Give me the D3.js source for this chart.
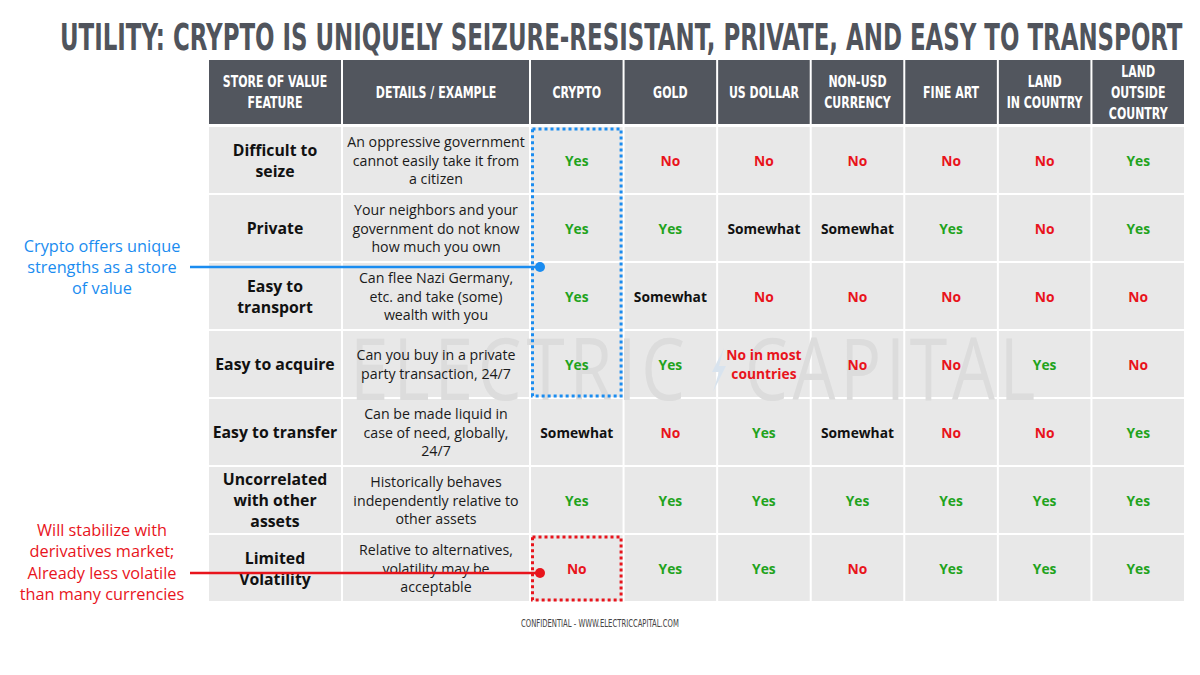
<!DOCTYPE html>
<html>
<head>
<meta charset="utf-8">
<script src="https://cdn.jsdelivr.net/npm/d3@7"></script>
<style>
  html, body { margin: 0; padding: 0; background: #ffffff; }
  svg { display: block; }
</style>
</head>
<body>
<svg id="chart" width="1200" height="675"></svg>
<script>
// ---------- DATA ----------
const title = "UTILITY: CRYPTO IS UNIQUELY SEIZURE-RESISTANT, PRIVATE, AND EASY TO TRANSPORT";
const headerLabels = ["STORE OF VALUE\nFEATURE", "DETAILS / EXAMPLE"];
const assets = ["CRYPTO", "GOLD", "US DOLLAR", "NON-USD\nCURRENCY", "FINE ART", "LAND\nIN COUNTRY", "LAND\nOUTSIDE\nCOUNTRY"];
const features = ["Difficult to\nseize", "Private", "Easy to\ntransport", "Easy to acquire", "Easy to transfer", "Uncorrelated\nwith other\nassets", "Limited\nVolatility"];
const details = [
  "An oppressive government\ncannot easily take it from\na citizen",
  "Your neighbors and your\ngovernment do not know\nhow much you own",
  "Can flee Nazi Germany,\netc. and take (some)\nwealth with you",
  "Can you buy in a private\nparty transaction, 24/7",
  "Can be made liquid in\ncase of need, globally,\n24/7",
  "Historically behaves\nindependently relative to\nother assets",
  "Relative to alternatives,\nvolatility may be\nacceptable"
];
// one array per asset column, one entry per feature row
const cryptoVals   = ["Yes", "Yes", "Yes", "Yes", "Somewhat", "Yes", "No"];
const goldVals     = ["No", "Yes", "Somewhat", "Yes", "No", "Yes", "Yes"];
const usdVals      = ["No", "Somewhat", "No", "No in most\ncountries", "Yes", "Yes", "Yes"];
const nonUsdVals   = ["No", "Somewhat", "No", "No", "Somewhat", "Yes", "No"];
const fineArtVals  = ["No", "Yes", "No", "No", "No", "Yes", "Yes"];
const landInVals   = ["No", "No", "No", "Yes", "No", "Yes", "Yes"];
const landOutVals  = ["Yes", "Yes", "No", "No", "Yes", "Yes", "Yes"];
const seriesValues = [cryptoVals, goldVals, usdVals, nonUsdVals, fineArtVals, landInVals, landOutVals];

const blueNote = ["Crypto offers unique", "strengths as a store", "of value"];
const redNote = ["Will stabilize with", "derivatives market;", "Already less volatile", "than many currencies"];
const footer = "CONFIDENTIAL - WWW.ELECTRICCAPITAL.COM";
const watermark = ["ELECTRIC", "CAPITAL"];

// ---------- LAYOUT ----------
const svg = d3.select("#chart");
const C = {
  headerFill: "#52565e", cellFill: "#e8e8e8", titleColor: "#50545c",
  green: "#22a31c", red: "#e8141c", blue: "#1a8cf0", black: "#111111"
};
const bodyFont = "'Open Sans', 'Noto Sans', sans-serif";
const condFont = "'Liberation Sans Narrow', 'DejaVu Sans Condensed', 'Roboto', sans-serif";

const tableLeft = 208, featureRight = 342, detailRight = 530, tableRight = 1185;
const headerTop = 60, headerBottom = 126, bodyTop = 126, bodyBottom = 602;

const xAsset = d3.scaleBand().domain(assets).range([detailRight, tableRight]);
const yRow = d3.scaleBand().domain(features).range([bodyTop, bodyBottom]);

const cols = [
  {x0: tableLeft, x1: featureRight},
  {x0: featureRight, x1: detailRight},
  ...assets.map(a => ({x0: xAsset(a), x1: xAsset(a) + xAsset.bandwidth()}))
];

// helper: multi-line centered text
function multiline(g, str, cx, cy, lh, attrs) {
  const lines = str.split("\n");
  const t = g.append("text").attr("text-anchor", "middle");
  Object.entries(attrs).forEach(([k, v]) => t.attr(k, v));
  lines.forEach((ln, i) => {
    t.append("tspan").attr("x", cx)
      .attr("y", cy + (i - (lines.length - 1) / 2) * lh)
      .attr("dominant-baseline", "central")
      .text(ln);
  });
  return t;
}
// condense text horizontally (narrow display face)
function condense(sel, factor) {
  sel.selectAll("tspan").each(function () {
    const w = this.getComputedTextLength();
    d3.select(this).attr("textLength", w * factor).attr("lengthAdjust", "spacingAndGlyphs");
  });
}
// text scaled horizontally to an exact width via transform
function fitText(g, str, x, y, width, attrs) {
  const t = g.append("text").attr("x", 0).attr("y", 0);
  Object.entries(attrs).forEach(([k, v]) => t.attr(k, v));
  t.text(str);
  const w = t.node().getComputedTextLength();
  t.attr("transform", `translate(${x},${y}) scale(${width / w},1)`);
  return t;
}

// ---------- TITLE ----------
fitText(svg, title, 60, 50, 1123,
  {"font-family": condFont, "font-weight": "bold", "font-size": 37, "fill": C.titleColor});

// ---------- HEADER ----------
const headerTexts = [...headerLabels, ...assets];
const hg = svg.append("g");
cols.forEach((c, i) => {
  hg.append("rect").attr("x", c.x0 + 1).attr("y", headerTop)
    .attr("width", c.x1 - c.x0 - 2).attr("height", headerBottom - headerTop - 2)
    .attr("fill", C.headerFill);
  const t = multiline(hg, headerTexts[i], (c.x0 + c.x1) / 2, (headerTop + headerBottom - 2) / 2, 21,
    {"font-family": condFont, "font-weight": "bold", "font-size": 16.5, "fill": "#ffffff"});
  condense(t, 0.74);
});

// ---------- BODY CELLS ----------
const bg = svg.append("g");
features.forEach(f => {
  cols.forEach(c => {
    bg.append("rect").attr("x", c.x0 + 1).attr("y", yRow(f) + 1)
      .attr("width", c.x1 - c.x0 - 2).attr("height", yRow.bandwidth() - 2)
      .attr("fill", C.cellFill);
  });
});

// ---------- WATERMARK ----------
const wm = svg.append("g");
const wmAttrs = {"font-family": "'Open Sans', 'Noto Sans', sans-serif", "font-weight": 400,
  "font-size": 86, "fill": "#dcdcdc", "letter-spacing": 6};
fitText(wm, watermark[0], 350, 400, 340, wmAttrs);
fitText(wm, watermark[1], 745, 400, 295, wmAttrs);
// small bolt mark between words
const bx = 718, by = 370;
wm.append("path")
  .attr("d", d3.line()([[bx + 6, by - 22], [bx - 6, by + 2], [bx + 1, by + 2], [bx - 5, by + 22], [bx + 8, by - 4], [bx + 1, by - 4], [bx + 6, by - 22]]))
  .attr("fill", "#d8e3ee");

// ---------- BODY TEXT ----------
const tg = svg.append("g");
features.forEach((f, r) => {
  const cy = yRow(f) + yRow.bandwidth() / 2;
  multiline(tg, f, (tableLeft + featureRight) / 2, cy, 21,
    {"font-family": bodyFont, "font-weight": "bold", "font-size": 15.8, "fill": C.black});
  multiline(tg, details[r], (featureRight + detailRight) / 2, cy, 18.5,
    {"font-family": bodyFont, "font-size": 14.2, "fill": "#1a1a1a"});
  assets.forEach((a, j) => {
    const v = seriesValues[j][r];
    const color = v.startsWith("Yes") ? C.green : v.startsWith("No") ? C.red : C.black;
    multiline(tg, v, xAsset(a) + xAsset.bandwidth() / 2, cy, 18.5,
      {"font-family": bodyFont, "font-weight": "bold", "font-size": 13.8, "fill": color});
  });
});

// ---------- HIGHLIGHT BOXES ----------
const ag = svg.append("g");
const cx0 = xAsset("CRYPTO"), cw = xAsset.bandwidth();
ag.append("rect")
  .attr("x", cx0 + 2.5).attr("y", yRow(features[0]) + 3)
  .attr("width", cw - 5).attr("height", yRow(features[3]) + yRow.bandwidth() - yRow(features[0]) - 5)
  .attr("fill", "none").attr("stroke", C.blue).attr("stroke-width", 3)
  .attr("stroke-dasharray", "3,3");
ag.append("rect")
  .attr("x", cx0 + 2.5).attr("y", yRow(features[6]) + 3)
  .attr("width", cw - 5).attr("height", yRow.bandwidth() - 5)
  .attr("fill", "none").attr("stroke", C.red).attr("stroke-width", 3)
  .attr("stroke-dasharray", "3,3");

// annotation connectors
const blueY = yRow(features[2]) + 5;
const redY = yRow(features[6]) + yRow.bandwidth() / 2 + 5;
[[blueY, C.blue], [redY, C.red]].forEach(([y, col]) => {
  ag.append("line").attr("x1", 190).attr("x2", cx0 + 10).attr("y1", y).attr("y2", y)
    .attr("stroke", col).attr("stroke-width", 2.5);
  ag.append("circle").attr("cx", cx0 + 10).attr("cy", y).attr("r", 5).attr("fill", col);
});

// annotation text
multiline(ag, blueNote.join("\n"), 102, blueY, 21,
  {"font-family": bodyFont, "font-size": 16.3, "fill": C.blue});
multiline(ag, redNote.join("\n"), 102, redY - 11, 21.5,
  {"font-family": bodyFont, "font-size": 16.3, "fill": C.red});

// ---------- FOOTER ----------
fitText(svg, footer, 521, 627, 158,
  {"font-family": condFont, "font-weight": "normal", "font-size": 10, "fill": "#444444"});
</script>
</body>
</html>
